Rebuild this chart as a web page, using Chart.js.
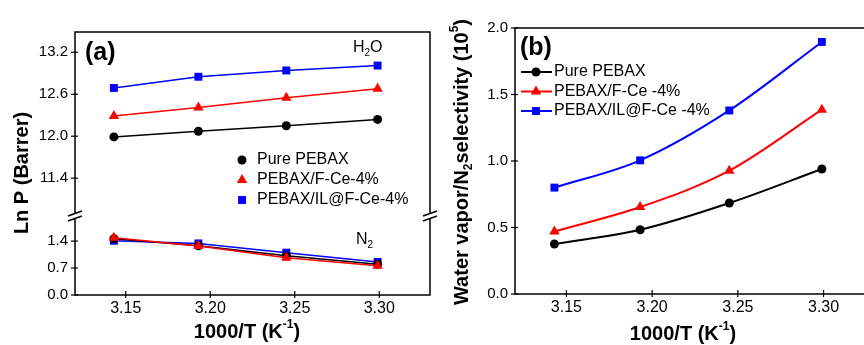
<!DOCTYPE html>
<html>
<head>
<meta charset="utf-8">
<script src="https://cdn.jsdelivr.net/npm/chart.js@4/dist/chart.umd.min.js"></script>
<style>
    body { margin: 0; width: 864px; height: 345px; overflow: hidden; background: #fff; position: relative; }
    #chartA { position: absolute; left: 0; top: 0; }
    #chartB { position: absolute; left: 430px; top: 0; }
</style>
</head>
<body>
<canvas id="chartA" width="445" height="345"></canvas>
<canvas id="chartB" width="460" height="345"></canvas>
<script>
// values
const tempX = [3.143, 3.193, 3.245, 3.299];          // 1000/T (K^-1)
const xTicks = [3.15, 3.20, 3.25, 3.30];

// (a) Ln P, H2O (upper part) and N2 (lower part)
const h2oPure = [11.99, 12.07, 12.15, 12.24];
const h2oFCe = [12.29, 12.41, 12.55, 12.68];
const h2oIL = [12.69, 12.85, 12.94, 13.01];
const n2Pure = [1.46, 1.28, 1.02, 0.80];
const n2FCe = [1.49, 1.27, 0.97, 0.76];
const n2IL = [1.41, 1.34, 1.10, 0.86];
const lnPHighTicks = [11.4, 12.0, 12.6, 13.2];
const lnPLowTicks = [0.0, 0.7, 1.4];
const seriesA = ['Pure PEBAX', 'PEBAX/F-Ce-4%', 'PEBAX/IL@F-Ce-4%'];

// (b) water vapor / N2 selectivity (10^5)
const selPure = [0.376, 0.483, 0.684, 0.94];
const selFCe = [0.47, 0.654, 0.927, 1.386];
const selIL = [0.80, 1.005, 1.38, 1.895];
const selTicks = [0.0, 0.5, 1.0, 1.5, 2.0];
const seriesB = ['Pure PEBAX', 'PEBAX/F-Ce -4%', 'PEBAX/IL@F-Ce -4%'];

// styles
const COLORS = ['#000000', '#ff0000', '#0000ff'];
const SHAPES = ['circle', 'triangle', 'rect'];
const RADII = [4.5, 6, 5.6];
const FONT = '"Liberation Sans", Arial, Helvetica, sans-serif';

Chart.defaults.font.family = FONT;
Chart.defaults.color = '#000';

function pts(ys) {
    return tempX.map((x, i) => ({ x: x, y: ys[i] }));
}

function makeSet(i, label, ys, yAxis, width, smooth) {
    return {
        label: label,
        data: pts(ys),
        yAxisID: yAxis,
        borderColor: COLORS[i],
        backgroundColor: COLORS[i],
        borderWidth: width,
        pointStyle: SHAPES[i],
        pointRadius: RADII[i],
        pointBackgroundColor: COLORS[i],
        pointBorderWidth: 0,
        cubicInterpolationMode: smooth ? 'monotone' : 'default',
        tension: smooth ? 0.4 : 0
    };
}

function fixTicks(list) {
    return function(scale) { scale.ticks = list.map(v => ({ value: v })); };
}

function line(ctx, x1, y1, x2, y2) {
    ctx.beginPath();
    ctx.moveTo(x1, y1);
    ctx.lineTo(x2, y2);
    ctx.stroke();
}

function marker(ctx, i, x, y) {
    const r = RADII[i];
    ctx.fillStyle = COLORS[i];
    ctx.beginPath();
    if (SHAPES[i] === 'circle') {
        ctx.arc(x, y, r, 0, Math.PI * 2);
    } else if (SHAPES[i] === 'triangle') {
        for (let k = 0; k < 3; k++) {
            const a = k * 2 * Math.PI / 3;
            const px = x + Math.sin(a) * r, py = y - Math.cos(a) * r;
            if (k === 0) ctx.moveTo(px, py); else ctx.lineTo(px, py);
        }
        ctx.closePath();
    } else {
        const s = r * Math.SQRT1_2;
        ctx.rect(x - s, y - s, 2 * s, 2 * s);
    }
    ctx.fill();
}

// parts: [text, 0 normal | 1 subscript | 2 superscript]
function richText(ctx, parts, x, y, size, bold, align, rotate) {
    const w = bold ? 'bold ' : '';
    const big = w + size + 'px ' + FONT;
    const small = w + Math.round(size * 0.62) + 'px ' + FONT;
    ctx.save();
    ctx.translate(x, y);
    if (rotate) ctx.rotate(-Math.PI / 2);
    let total = 0;
    parts.forEach(p => { ctx.font = p[1] ? small : big; total += ctx.measureText(p[0]).width; });
    let cx = align === 'center' ? -total / 2 : 0;
    ctx.textBaseline = 'middle';
    ctx.textAlign = 'left';
    ctx.fillStyle = '#000';
    parts.forEach(p => {
        ctx.font = p[1] ? small : big;
        const dy = p[1] === 1 ? size * 0.32 : (p[1] === 2 ? -size * 0.36 : 0);
        ctx.fillText(p[0], cx, dy);
        cx += ctx.measureText(p[0]).width;
    });
    ctx.restore();
}

function frameAndTicks(chart, xScale, yList) {
    const { ctx, chartArea: a } = chart;
    ctx.strokeStyle = '#000';
    ctx.lineWidth = 1.5;
    ctx.strokeRect(a.left, a.top, a.right - a.left, a.bottom - a.top);
    ctx.lineWidth = 1.2;
    xTicks.forEach(v => {
        const px = xScale.getPixelForValue(v);
        line(ctx, px, a.bottom - 4, px, a.bottom + 3);
    });
    yList.forEach(([scale, ticks]) => {
        ticks.forEach(v => {
            const py = scale.getPixelForValue(v);
            line(ctx, a.left - 4, py, a.left + 3, py);
        });
    });
}

const panelA = {
    id: 'panelA',
    afterDraw(chart) {
        const { ctx, chartArea: a, scales } = chart;
        ctx.save();
        frameAndTicks(chart, scales.x, [[scales.yHigh, lnPHighTicks], [scales.yLow, lnPLowTicks]]);

        // axis break marks
        const by = scales.yHigh.bottom - 1;
        [a.left, a.right].forEach(bx => {
            ctx.fillStyle = '#fff';
            ctx.fillRect(bx - 2, by - 4, 4, 5);
            ctx.strokeStyle = '#000';
            ctx.lineWidth = 1.4;
            line(ctx, bx - 7, by - 1, bx + 7, by - 6);
            line(ctx, bx - 7, by + 4, bx + 7, by - 1);
        });

        // legend (symbols only)
        seriesA.forEach((name, i) => {
            const ly = 160 + i * 20;
            marker(ctx, i, 242, ly);
            ctx.fillStyle = '#000';
            ctx.font = '16px ' + FONT;
            ctx.textBaseline = 'middle';
            ctx.fillText(name, 257, ly);
        });

        richText(ctx, [['H', 0], ['2', 1], ['O', 0]], 353, 48, 16, false, 'left');
        richText(ctx, [['N', 0], ['2', 1]], 356, 240, 16, false, 'left');
        richText(ctx, [['(a)', 0]], 85, 53, 25, true, 'left');
        richText(ctx, [['Ln P (Barrer)', 0]], 22, 173, 20, true, 'center', true);
        richText(ctx, [['1000/T (K', 0], ['-1', 2], [')', 0]], 247, 332, 20, true, 'center');
        ctx.restore();
    }
};

const panelB = {
    id: 'panelB',
    afterDraw(chart) {
        const { ctx, scales } = chart;
        ctx.save();
        frameAndTicks(chart, scales.x, [[scales.y, selTicks]]);

        // legend (line + symbol)
        seriesB.forEach((name, i) => {
            const ly = 72 + i * 19.5;
            ctx.strokeStyle = COLORS[i];
            ctx.lineWidth = 2;
            line(ctx, 91, ly, 122, ly);
            marker(ctx, i, 106, ly);
            ctx.fillStyle = '#000';
            ctx.font = '16px ' + FONT;
            ctx.textBaseline = 'middle';
            ctx.fillText(name, 124, ly);
        });

        richText(ctx, [['(b)', 0]], 90, 48, 25, true, 'left');
        richText(ctx, [['Water vapor/N', 0], ['2', 1], ['selectivity (10', 0], ['5', 2], [')', 0]],
            32, 162, 20, true, 'center', true);
        richText(ctx, [['1000/T (K', 0], ['-1', 2], [')', 0]], 253, 334, 20, true, 'center');
        ctx.restore();
    }
};

function xScaleOpts(height) {
    return {
        type: 'linear', min: 3.12, max: 3.33,
        grid: { display: false, drawTicks: false },
        border: { display: false },
        afterBuildTicks: fixTicks(xTicks),
        afterFit: s => { s.height = height; },
        ticks: { padding: 4, font: { size: 16 }, callback: v => v.toFixed(2) }
    };
}

function yScaleOpts(min, max, list, width, extra) {
    return Object.assign({
        type: 'linear', position: 'left', min: min, max: max,
        grid: { display: false, drawTicks: false },
        border: { display: false },
        afterBuildTicks: fixTicks(list),
        afterFit: s => { s.width = width; },
        ticks: { padding: 7, font: { size: 15 }, callback: v => v.toFixed(1) }
    }, extra);
}

new Chart(document.getElementById('chartA'), {
    type: 'line',
    data: {
        datasets: [
            makeSet(1, seriesA[1], h2oFCe, 'yHigh', 1.5, false),
            makeSet(0, seriesA[0], h2oPure, 'yHigh', 1.5, false),
            makeSet(2, seriesA[2], h2oIL, 'yHigh', 1.5, false),
            makeSet(1, seriesA[1], n2FCe, 'yLow', 1.5, false),
            makeSet(0, seriesA[0], n2Pure, 'yLow', 1.5, false),
            makeSet(2, seriesA[2], n2IL, 'yLow', 1.5, false)
        ]
    },
    options: {
        responsive: false,
        animation: false,
        layout: { padding: { top: 32, right: 15, left: 0, bottom: 0 } },
        plugins: { legend: { display: false }, tooltip: { enabled: false } },
        scales: {
            x: xScaleOpts(50),
            yLow: yScaleOpts(0, 2.0, lnPLowTicks, 75, { stack: 'lnp', stackWeight: 77 }),
            yHigh: yScaleOpts(10.83, 13.49, lnPHighTicks, 75, { stack: 'lnp', stackWeight: 186 })
        }
    },
    plugins: [panelA]
});

new Chart(document.getElementById('chartB'), {
    type: 'line',
    data: {
        datasets: [
            makeSet(0, seriesB[0], selPure, 'y', 2, true),
            makeSet(1, seriesB[1], selFCe, 'y', 2, true),
            makeSet(2, seriesB[2], selIL, 'y', 2, true)
        ]
    },
    options: {
        responsive: false,
        animation: false,
        layout: { padding: { top: 28, right: 15, left: 0, bottom: 0 } },
        plugins: { legend: { display: false }, tooltip: { enabled: false } },
        scales: {
            x: xScaleOpts(51),
            y: yScaleOpts(0, 2.0, selTicks, 85)
        }
    },
    plugins: [panelB]
});
</script>
</body>
</html>
